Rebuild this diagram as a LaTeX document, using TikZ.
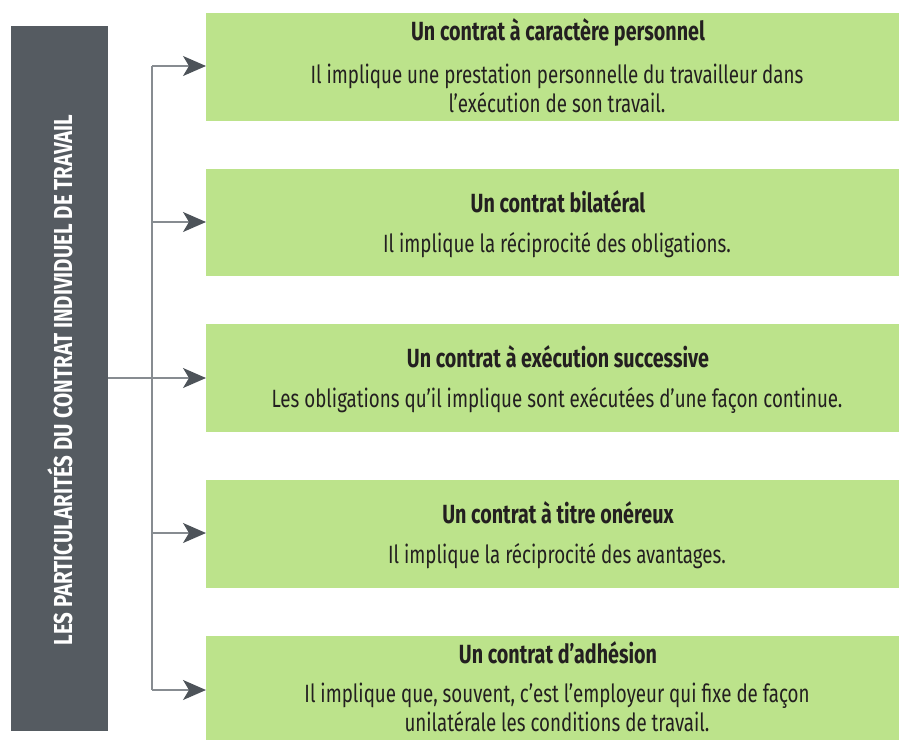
\documentclass[tikz,border=0pt]{standalone}
\usepackage{fontspec}
\setmainfont{Fira Sans}[FakeStretch=0.75]
\newfontfamily\sidefont{Fira Sans}[FakeStretch=0.79]
\usetikzlibrary{arrows.meta}
\definecolor{darkbox}{HTML}{555B61}
\definecolor{greenbox}{HTML}{BCE38B}
\definecolor{arrowgray}{HTML}{4D5359}
\definecolor{linegray}{HTML}{878C91}
\definecolor{textdark}{HTML}{231F20}
\tikzset{
  gbox/.style={fill=greenbox, draw=none},
  ttl/.style={font=\fontsize{26.3}{30}\selectfont\bfseries, text=textdark, anchor=base, inner sep=0pt},
  body/.style={font=\fontsize{25}{29}\selectfont, text=textdark, anchor=base, inner sep=0pt},
  conn/.style={draw=linegray, line width=1.5pt},
  arr/.style={conn, -{Stealth[length=23pt, width=20pt, inset=6pt, color=arrowgray]}}
}
\begin{document}
\begin{tikzpicture}[x=1pt,y=-1pt]
\useasboundingbox (0,0) rectangle (899,740);
% dark box
\fill[darkbox] (11,26) rectangle (108,731);
\node[rotate=90, text=white, inner sep=0pt, font=\sidefont\fontsize{26}{30}\selectfont\bfseries] (side) at (60,380) {LES PARTICULARITÉS DU CONTRAT INDIVIDUEL DE TRAVAIL};
% green boxes
\fill[gbox] (206,13) rectangle (899,121);
\coordinate (b1) at (206,66);
\fill[gbox] (206,169) rectangle (899,276);
\coordinate (b2) at (206,222);
\fill[gbox] (206,324) rectangle (899,432);
\coordinate (b3) at (206,378);
\fill[gbox] (206,480) rectangle (899,588);
\coordinate (b4) at (206,533);
\fill[gbox] (206,636) rectangle (899,740);
\coordinate (b5) at (206,690);
% texts
\node[ttl] (t1) at (558,40) {Un contrat à caractère personnel};
\node[body] (d1a) at (557,83) {Il implique une prestation personnelle du travailleur dans};
\node[body] (d1b) at (557,112) {l’exécution de son travail.};
\node[ttl] (t2) at (558,212) {Un contrat bilatéral};
\node[body] (d2) at (557,252) {Il implique la réciprocité des obligations.};
\node[ttl] (t3) at (558,367) {Un contrat à exécution successive};
\node[body] (d3) at (557,407) {Les obligations qu’il implique sont exécutées d’une façon continue.};
\node[ttl] (t4) at (558,523) {Un contrat à titre onéreux};
\node[body] (d4) at (557,563) {Il implique la réciprocité des avantages.};
\node[ttl] (t5) at (558,663) {Un contrat d’adhésion};
\node[body] (d5a) at (557,702) {Il implique que, souvent, c’est l’employeur qui fixe de façon};
\node[body] (d5b) at (557,731) {unilatérale les conditions de travail.};
% connectors
\coordinate (sr) at (108,378);
\coordinate (jt) at (152,66);
\coordinate (jb) at (152,690);
\coordinate (jm) at (152,378);
\draw[conn] (jt) -- (jb);
\draw[conn] (sr) -- (jm);
\draw[arr] (jt) -- (b1);
\draw[arr] (152,222) -- (b2);
\draw[arr] (jm) -- (b3);
\draw[arr] (152,533) -- (b4);
\draw[arr] (jb) -- (b5);
\end{tikzpicture}
\end{document}
